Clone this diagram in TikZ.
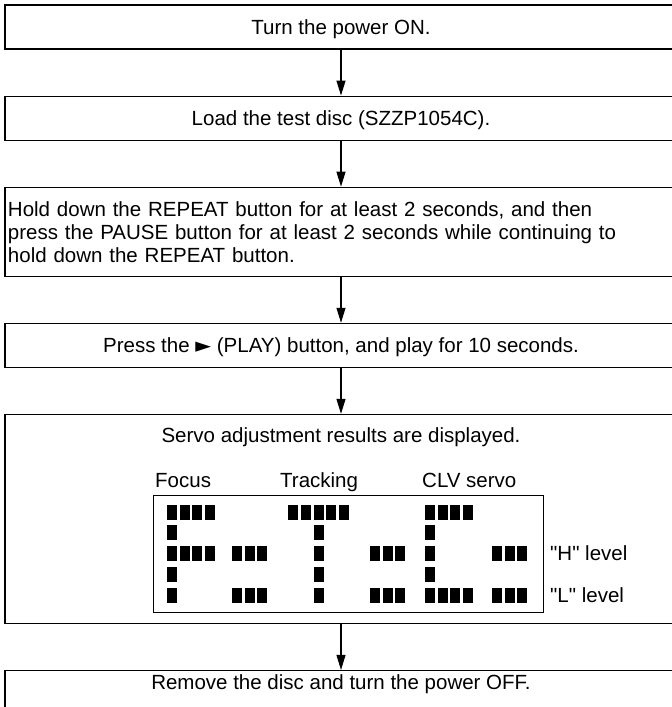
\documentclass[tikz,border=0pt]{standalone}
\usepackage{fontspec}
\setmainfont{Liberation Sans}
\newfontfamily\symfont{DejaVu Sans}
\usetikzlibrary{positioning,arrows.meta}

\begin{document}
\begin{tikzpicture}
    [x=1pt, y=-1pt,
    node distance=46pt,
    font=\fontsize{20.5}{23}\selectfont,
    stepbox/.style={draw, line width=1.1pt, minimum width=672pt, minimum height=44pt, inner sep=3pt, text height=14.7pt, text depth=0pt},
    flowto/.style={line width=1.1pt, -{Triangle[length=15pt, width=9pt]}},
    lcd/.style={draw, line width=0.9pt, minimum width=390pt, minimum height=117pt, inner sep=0pt},
    lbl/.style={inner sep=0pt, anchor=base west}]
    \useasboundingbox (0,0) rectangle (672,707);
    \clip (0,0) rectangle (672,707);

        %% Steps
    \node[stepbox] (poweron) at (341,27) {Turn the power ON.};
    \node[stepbox, below=of poweron] (loaddisc) {Load the test disc (SZZP1054C).};
    \node[stepbox, below=of loaddisc, minimum height=89pt, text width=666pt, align=left, text height=, text depth=] (holdrepeat)
        {Hold down the REPEAT button for at least 2 seconds, and then\\
         press the PAUSE button for at least 2 seconds while continuing to\\
         hold down the REPEAT button.};
    \node[stepbox, below=of holdrepeat] (pressplay) {Press the {\symfont ►} (PLAY) button, and play for 10 seconds.};
    \node[stepbox, below=of pressplay, minimum height=209pt] (results) {};
    \node[stepbox, below=of results, text height=15.5pt, text depth=30pt] (poweroff) {Remove the disc and turn the power OFF.};

    \draw[flowto] (poweron) -- (loaddisc);
    \draw[flowto] (loaddisc) -- (holdrepeat);
    \draw[flowto] (holdrepeat) -- (pressplay);
    \draw[flowto] (pressplay) -- (results);
    \draw[flowto] (results) -- (poweroff);

        %% Display
    \node[inner sep=0pt, anchor=base] (servotxt) at (341,442) {Servo adjustment results are displayed.};
    \node[lbl] (focus) at (155,487) {Focus};
    \node[lbl] (tracking) at (280,487) {Tracking};
    \node[lbl] (clv) at (422,487) {CLV servo};
    \node[lcd] (display) at (348,553.5) {};
    \node[lbl] (hlevel) at (550,560) {\textquotedbl H\textquotedbl\ level};
    \node[lbl] (llevel) at (550,602) {\textquotedbl L\textquotedbl\ level};

    % F
    \foreach \y in {504.5,525,546,567,587.5} \fill (167,\y) rectangle ++(10,15);
    \foreach \x in {179.5,192,204.5} \foreach \y in {504.5,546} \fill (\x,\y) rectangle ++(10,15);
    % T
    \foreach \x in {288,300.8,326.4,339.2} \fill (\x,504.5) rectangle ++(10,15);
    \foreach \y in {504.5,525,546,567,587.5} \fill (313.6,\y) rectangle ++(10,15);
    % C
    \foreach \y in {504.5,525,546,567,587.5} \fill (425,\y) rectangle ++(10,15);
    \foreach \x in {437.5,450,462.5} \foreach \y in {504.5,587.5} \fill (\x,\y) rectangle ++(10,15);
    % level bars
    \foreach \x in {232,370,492} \foreach \d in {0,12.5,25} \foreach \y in {546,587.5} \fill (\x+\d,\y) rectangle ++(10,15);
\end{tikzpicture}
\end{document}
